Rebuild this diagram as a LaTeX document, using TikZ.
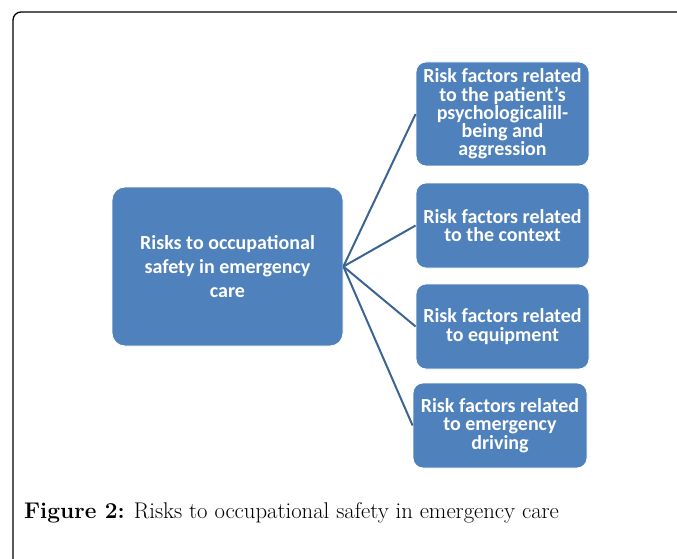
\documentclass[tikz,border=0pt]{standalone}
\usepackage{fontspec}
\usepackage{tikz}
\newfontfamily\boxfont{Carlito}
\definecolor{boxblue}{HTML}{4F81BD}
\definecolor{linkblue}{HTML}{3B6494}
\newdimen\unitsize
\setlength{\unitsize}{1pt}

\begin{document}
\begin{tikzpicture}[x=\unitsize,y=\unitsize,baseline=0]
\tikzset{riskbox/.style={fill=boxblue, draw=white, line width=0.8pt, rounded corners=10, text=white, align=center, inner sep=0pt, font=\boxfont\bfseries\fontsize{20}{18.2}\selectfont}}%
\tikzset{link/.style={draw=linkblue, line width=2pt}}%
\useasboundingbox (0,0) rectangle (677,558);
% frame
\draw[line width=1.3pt, rounded corners=8] (13,-10) |- (690,546);
% boxes
\node[riskbox, minimum width=231pt, minimum height=159pt, rounded corners=13, font=\boxfont\bfseries\fontsize{20}{24}\selectfont] (main) at (227.5,291.5) {Risks to occupational\\safety in emergency\\care};
\node[riskbox, minimum width=173pt, minimum height=104pt] (patient) at (502.5,444) {Risk factors related\\to the patient’s\\psychologicalill-\\being and\\aggression};
\node[riskbox, minimum width=173pt, minimum height=85pt] (context) at (502.5,332.5) {Risk factors related\\to the context};
\node[riskbox, minimum width=173pt, minimum height=85pt] (equipment) at (502.5,231.5) {Risk factors related\\to equipment};
\node[riskbox, minimum width=174pt, minimum height=85pt] (driving) at (500,132.5) {Risk factors related\\to emergency\\driving};
% links
\draw[link] (main.east) -- (patient.west);
\draw[link] (main.east) -- (context.west);
\draw[link] (main.east) -- (equipment.west);
\draw[link] (main.east) -- (driving.west);
% caption
\node[anchor=base west, inner sep=0pt, font=\fontsize{22.7}{26}\selectfont] (caption) at (24,40) {\textbf{Figure 2:} Risks to occupational safety in emergency care};
\end{tikzpicture}
\end{document}
